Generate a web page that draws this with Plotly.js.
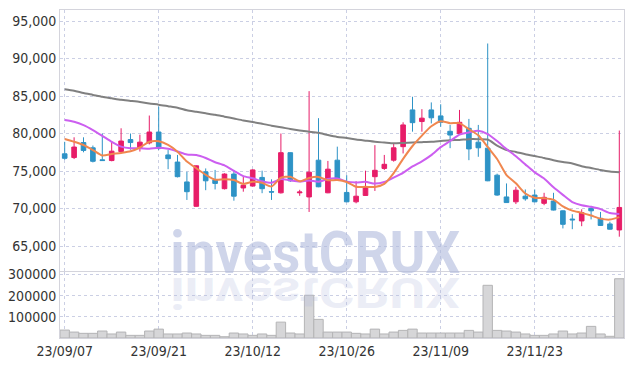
<!DOCTYPE html>
<html>
<head>
<meta charset="utf-8">
<script src="https://cdn.plot.ly/plotly-3.0.1.min.js"></script>
<style>
html,body{margin:0;padding:0;background:#fff;}
#chart{width:634px;height:366px;}
</style>
</head>
<body>
<div id="chart"></div>
<script>
const dates = ["23/09/07","23/09/08","23/09/11","23/09/12","23/09/13","23/09/14","23/09/15","23/09/18","23/09/19","23/09/20",
"23/09/21","23/09/22","23/09/25","23/09/26","23/09/27","23/10/04","23/10/05","23/10/06","23/10/10","23/10/11",
"23/10/12","23/10/13","23/10/16","23/10/17","23/10/18","23/10/19","23/10/20","23/10/23","23/10/24","23/10/25",
"23/10/26","23/10/27","23/10/30","23/10/31","23/11/01","23/11/02","23/11/03","23/11/06","23/11/07","23/11/08",
"23/11/09","23/11/10","23/11/13","23/11/14","23/11/15","23/11/16","23/11/17","23/11/20","23/11/21","23/11/22",
"23/11/23","23/11/24","23/11/27","23/11/28","23/11/29","23/11/30","23/12/01","23/12/04","23/12/05","23/12/06"];

const openP  = [77300,76800,78800,78100,76500,76400,77600,79200,78150,78750,
80200,77150,76200,73550,70300,74900,73800,72650,74600,72750,
73000,74150,72250,72100,77450,72100,71550,76450,72100,76450,
72150,70900,71750,74250,75350,76450,78250,83150,81600,83150,
82350,80300,80000,80700,78850,78050,74450,71550,70900,71650,
71800,70700,71000,69700,68600,68350,70000,68700,67950,67150];
const highP  = [78900,79500,79500,78400,80000,79000,80700,80000,79850,82400,
83600,77800,77150,74900,75750,75350,75150,74700,75150,74250,
75250,75050,73900,80000,77500,72500,85650,82050,76350,78250,
74450,73650,75050,78450,77150,78700,81500,84900,83250,84150,
83900,81150,83150,81950,81150,92000,74650,73350,72900,72550,
72550,72100,72100,69750,69250,69900,70350,69550,68250,80400];
const lowP   = [76500,76600,77500,76150,76350,76300,77500,77850,77600,78550,
77800,75250,74150,71150,70250,72450,72550,72550,71050,72250,
72950,72050,71150,72000,73550,71700,69550,72850,72050,73700,
70850,70700,71700,72350,75150,76250,77350,80250,80250,81350,
80900,78050,79950,76450,76900,73650,71700,70750,70600,71050,
70850,70450,69750,67350,67250,67650,68550,67700,67200,66250];
const closeP = [76700,78200,77750,76300,76400,77650,79000,78800,78850,80200,
78000,76650,74250,72250,75700,73700,73350,74600,71650,73100,
75150,72650,72200,77450,73700,72200,74850,72900,75250,73800,
70900,71650,72900,75100,75900,78100,81150,81450,82050,82100,
81500,79800,81500,77950,78100,73700,71800,70800,72450,71300,
70900,71500,69800,67900,68500,69450,69700,67750,67250,70150];
const volume = [37500,28000,22000,22000,33000,19000,28000,12500,12500,33000,
42000,19000,19000,23500,19000,12500,12500,6000,23500,19000,
12500,19000,12500,75000,23500,19000,202000,88000,28000,28000,
28000,22000,19000,42000,19000,28000,36000,42000,23500,23500,
23500,23500,23500,36000,28000,249000,36000,33000,28000,19000,
12500,12500,19000,33000,19000,23500,55000,19000,8000,280000];
const ma5  = [79270,78900,78470,77800,77070,77260,77420,77630,78140,78900,
78970,78500,77590,76270,75370,74510,73850,73920,73800,73280,
73570,73430,72950,74110,74230,73640,74080,74220,73780,73800,
73540,72900,72900,72870,73290,74730,76630,78340,79730,80970,
81650,81380,81390,80570,79770,78210,76610,74470,73370,72010,
71450,71390,71190,70280,69720,69430,69070,68660,68530,68860];
const ma10 = [81800,81570,81130,80470,79700,78900,78250,78030,78050,77985,
78115,77960,77610,77205,77135,76740,76175,75755,75035,74325,
74040,73640,73435,73955,73755,73605,73755,73585,73945,74015,
73590,73490,73560,73325,73545,74135,74765,75620,76300,77130,
78190,79005,79865,80150,80370,79930,78995,77930,76970,75890,
74830,74000,72830,71825,70865,70440,70230,69925,69405,69290];
const ma60 = [85900,85700,85400,85150,84900,84700,84500,84350,84200,84000,
83850,83650,83450,83100,82900,82700,82500,82250,82000,81750,
81550,81300,81050,80850,80600,80400,80250,80100,79800,79550,
79400,79200,79050,78900,78800,78700,78750,78800,78850,78900,
79000,79100,79150,79250,79250,79200,78400,77800,77550,77250,
77000,76750,76450,76200,76000,75650,75400,75150,74950,74850];
const priceTicks = [65000,70000,75000,80000,85000,90000,95000];
const volTicks = [100000,200000,300000];
const dateTicks = ["23/09/07","23/09/21","23/10/12","23/10/26","23/11/09","23/11/23"];

const RED = '#e71d68', BLUE = '#2e93c6';
const GRID = '#cbcfe4';
const tickFont = {family:'"DejaVu Sans Condensed", "DejaVu Sans", sans-serif', size:14, color:'#333'};
const wmFont = 'Roboto, "DejaVu Sans Condensed", sans-serif';

const traces = [
  {type:'candlestick', x:dates, open:openP, high:highP, low:lowP, close:closeP,
   xaxis:'x', yaxis:'y', whiskerwidth:0, hoverinfo:'skip',
   increasing:{line:{color:RED,width:1}, fillcolor:RED},
   decreasing:{line:{color:BLUE,width:1}, fillcolor:BLUE}},
  {type:'scatter', mode:'lines', x:dates, y:ma60, xaxis:'x', yaxis:'y', hoverinfo:'skip',
   line:{color:'#808080', width:2, shape:'spline', smoothing:0.6}},
  {type:'scatter', mode:'lines', x:dates, y:ma10, xaxis:'x', yaxis:'y', hoverinfo:'skip',
   line:{color:'#cc5ef0', width:2, shape:'spline', smoothing:0.6}},
  {type:'scatter', mode:'lines', x:dates, y:ma5, xaxis:'x', yaxis:'y', hoverinfo:'skip',
   line:{color:'#f0874f', width:2, shape:'spline', smoothing:0.6}},
  {type:'bar', x:dates, y:volume, xaxis:'x2', yaxis:'y2', hoverinfo:'skip',
   marker:{color:'#d6d6d8', line:{color:'#b4b4b6', width:1}}}
];

const commonX = {type:'category', range:[-0.5,59.5], tickvals:dateTicks, showgrid:true, gridcolor:GRID,
  griddash:'dot', gridwidth:1, showline:true, linecolor:'#d4d4dc', linewidth:1, mirror:true, ticks:'',
  zeroline:false, fixedrange:true, tickfont:tickFont};

const layout = {
  width:634, height:366,
  margin:{l:60, r:10, t:10, b:28},
  paper_bgcolor:'#fff', plot_bgcolor:'#fff',
  showlegend:false, hovermode:false, bargap:0,
  xaxis:Object.assign({}, commonX, {anchor:'y', showticklabels:false, rangeslider:{visible:false}}),
  xaxis2:Object.assign({}, commonX, {anchor:'y2', showticklabels:true}),
  yaxis:{domain:[0.204,1], range:[61667,96467], tickvals:priceTicks, tickformat:',d', showgrid:true,
    gridcolor:GRID, griddash:'dot', showline:true, linecolor:'#d4d4dc', mirror:true, ticks:'',
    zeroline:false, fixedrange:true, tickfont:tickFont},
  yaxis2:{domain:[0,0.2], range:[0,310000], tickvals:volTicks, tickformat:'d', showgrid:true,
    gridcolor:GRID, griddash:'dot', showline:true, linecolor:'#d4d4dc', mirror:true, ticks:'',
    zeroline:false, fixedrange:true, tickfont:tickFont},
  annotations:[
    {text:'investCRUX', xref:'paper', yref:'paper', x:0.452, y:0.262, xanchor:'center', yanchor:'middle',
     showarrow:false, font:{family:wmFont, size:60, weight:700, color:'rgba(175,185,220,0.6)'}},
    {text:'investCRUX', xref:'paper', yref:'paper', x:0.452, y:0.135, xanchor:'center', yanchor:'middle',
     showarrow:false, font:{family:wmFont, size:60, weight:700, color:'rgba(175,185,220,0.25)'}}
  ]
};

Plotly.newPlot('chart', traces, layout, {displayModeBar:false, staticPlot:true}).then(function(){
  const t = document.querySelectorAll('.annotation-text');
  const scales = ['scale(0.91,1)', 'scale(0.91,-0.72)'];
  t.forEach(function(el, i){
    if (i > 1) return;
    el.style.transformBox = 'fill-box';
    el.style.transformOrigin = 'center';
    el.style.transform = scales[i];
  });
});
</script>
</body>
</html>
